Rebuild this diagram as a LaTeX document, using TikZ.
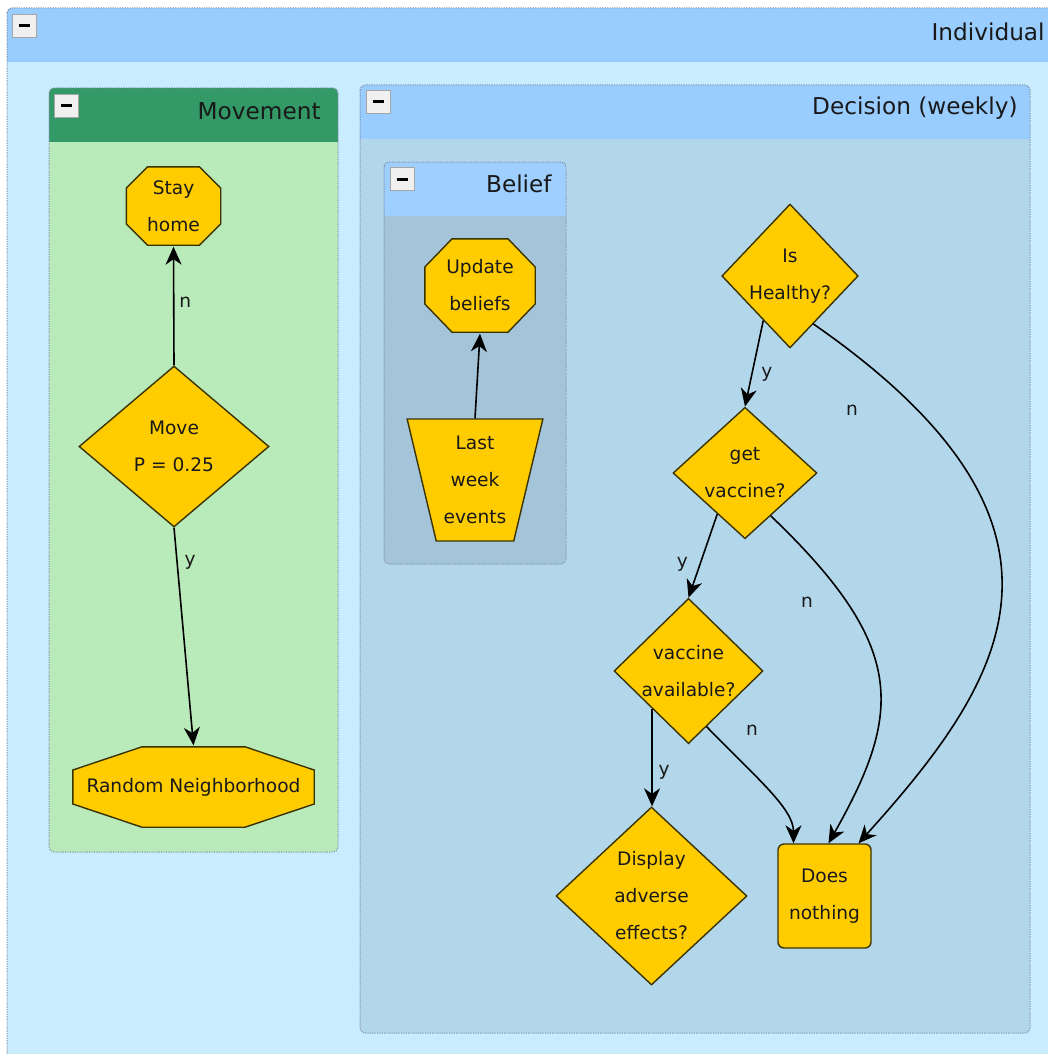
\documentclass[tikz,border=0pt]{standalone}
\usepackage{fontspec}
\setmainfont{DejaVu Sans}
\usetikzlibrary{shapes.geometric,arrows.meta}

\definecolor{indhead}{HTML}{99CCFF}
\definecolor{indbody}{HTML}{C9ECFF}
\definecolor{movhead}{HTML}{339966}
\definecolor{movbody}{HTML}{B9EAB9}
\definecolor{dechead}{HTML}{99CCFF}
\definecolor{decbody}{HTML}{B3D7EA}
\definecolor{belhead}{HTML}{9FCFFF}
\definecolor{belbody}{HTML}{A3C4D9}
\definecolor{blkfill}{HTML}{FFCC00}
\definecolor{blkline}{HTML}{3A3300}
\definecolor{grpline}{HTML}{7F8FA6}

\tikzset{
  grp/.style={draw=grpline, line width=0.5pt, dash pattern=on 0.6pt off 0.6pt, rounded corners=2.5pt},
  grptitle/.style={anchor=east, inner sep=0pt, text=black!90, font=\fontsize{11.6}{14}\selectfont},
  minusbtn/.style={draw=gray!70, fill=gray!12, minimum width=12pt, minimum height=11.5pt, inner sep=0pt},
  blk/.style={draw=blkline, fill=blkfill, line width=0.7pt, align=center, inner sep=0pt,
    text=black!90, font=\fontsize{9.3}{18.5}\selectfont},
  % octagon drawn inside a plain rectangle node, #1 = x cut, #2 = y cut
  octo/.style 2 args={blk, draw=none, fill=none, path picture={
    \filldraw[draw=blkline, fill=blkfill, line width=0.7pt]
      ([shift={(#1,-0.4pt)}]path picture bounding box.north west)
      -- ([shift={(-#1,-0.4pt)}]path picture bounding box.north east)
      -- ([shift={(-0.4pt,-#2)}]path picture bounding box.north east)
      -- ([shift={(-0.4pt,#2)}]path picture bounding box.south east)
      -- ([shift={(-#1,0.4pt)}]path picture bounding box.south east)
      -- ([shift={(#1,0.4pt)}]path picture bounding box.south west)
      -- ([shift={(0.4pt,#2)}]path picture bounding box.south west)
      -- ([shift={(0.4pt,-#2)}]path picture bounding box.north west) -- cycle;}},
  choice/.style={blk, diamond},
  flow/.style={line width=0.8pt, -{Stealth[length=9pt, width=8pt, inset=2.8pt]}},
  lbl/.style={inner sep=0pt, text=black!90, font=\fontsize{9.3}{11}\selectfont},
}

\begin{document}
\begin{tikzpicture}[x=0.5pt, y=-0.5pt]
\useasboundingbox (0,0) rectangle (1048,1054);
\clip (0,0) rectangle (1048,1054);

% groups
\begin{scope}
  \clip[rounded corners=2.5pt] (7,8) rectangle (1080,1080);
  \fill[indbody] (7,8) rectangle (1080,1080);
  \fill[indhead] (7,8) rectangle (1080,62);
\end{scope}
\draw[grp] (7,8) rectangle (1080,1080);
\node[minusbtn] (indbtn) at (24,25.5) {\rule{5.5pt}{1.5pt}};
\node[grptitle] (indtitle) at (1045,32) {Individual};

\begin{scope}
  \clip[rounded corners=2.5pt] (49,88) rectangle (338,852);
  \fill[movbody] (49,88) rectangle (338,852);
  \fill[movhead] (49,88) rectangle (338,142);
\end{scope}
\draw[grp] (49,88) rectangle (338,852);
\node[minusbtn] (movbtn) at (66.5,105.5) {\rule{5.5pt}{1.5pt}};
\node[grptitle] (movtitle) at (321,111) {Movement};

\begin{scope}
  \clip[rounded corners=2.5pt] (360,85) rectangle (1030,1033);
  \fill[decbody] (360,85) rectangle (1030,1033);
  \fill[dechead] (360,85) rectangle (1030,139);
\end{scope}
\draw[grp] (360,85) rectangle (1030,1033);
\node[minusbtn] (decbtn) at (378,102) {\rule{5.5pt}{1.5pt}};
\node[grptitle] (dectitle) at (1018,108) {Decision (weekly)};

\begin{scope}
  \clip[rounded corners=2.5pt] (384,162) rectangle (566,564);
  \fill[belbody] (384,162) rectangle (566,564);
  \fill[belhead] (384,162) rectangle (566,216);
\end{scope}
\draw[grp] (384,162) rectangle (566,564);
\node[minusbtn] (belbtn) at (402,179) {\rule{5.5pt}{1.5pt}};
\node[grptitle] (beltitle) at (552,184) {Belief};

% movement
\node[octo={11pt}{11pt}, minimum width=48pt, minimum height=40pt] (stay) at (173.5,206) {Stay\\home};
\node[choice, minimum width=95pt, minimum height=80.5pt] (move) at (174,446.5) {Move\\P = 0.25};
\node[octo={35pt}{12pt}, minimum width=121.5pt, minimum height=41pt] (randnb) at (193.5,787) {Random Neighborhood};

\draw[flow] (move.north) -- (stay.south) node[lbl, pos=0.53, shift={(11.5,0)}] {n};
\draw[flow] (move.south) -- (randnb.north) node[lbl, pos=0.16, shift={(13,0)}] {y};

% belief
\node[octo={14pt}{14.5pt}, minimum width=56pt, minimum height=47.5pt] (update) at (480,285.5) {Update\\beliefs};
\node[blk, trapezium, trapezium left angle=75, trapezium right angle=75, shape border rotate=180,
  trapezium stretches=true, minimum width=68pt, minimum height=61pt] (lastweek) at (475,480) {Last\\week\\events};

\draw[flow] (lastweek.north) -- (update.south);

% decision
\node[choice, minimum width=67pt, minimum height=72pt] (healthy) at (790,276) {Is\\Healthy?};
\node[choice, minimum width=72pt, minimum height=62pt] (getvac) at (745,473) {get\\vaccine?};
\node[choice, minimum width=74.5pt, minimum height=72pt] (avail) at (688.5,671) {vaccine\\available?};
\node[choice, minimum width=95.5pt, minimum height=89pt] (adverse) at (651.5,896) {Display\\adverse\\effects?};
\node[blk, rounded corners=3pt, minimum width=46.5pt, minimum height=52pt] (nothing) at (824.5,896) {Does\\nothing};

\draw[flow] (healthy.-121) -- (getvac.north) node[lbl, pos=0.63, shift={(15,0)}] {y};
\draw[flow] (getvac.-124) -- (avail.north) node[lbl, pos=0.6, shift={(-17.6,0)}] {y};
\draw[flow] (avail.-134) -- (avail.-134 |- adverse.north) node[lbl, pos=0.65, shift={(12,0)}] {y};
\draw[flow] (healthy.-64) .. controls +(294,204) and +(145,-161) .. ([xshift=17pt]nothing.north)
  node[lbl, pos=0.1, shift={(-38,27)}] {n};
\draw[flow] (getvac.-59) .. controls +(137,131) and +(74,-131) .. ([xshift=2pt]nothing.north)
  node[lbl, pos=0.25, shift={(-41,-2)}] {n};
\draw[flow] (avail.-72) .. controls +(53,54) and +(0,-34) .. ([xshift=-15.5pt]nothing.north)
  node[lbl, pos=0.1, shift={(30,-12)}] {n};
\end{tikzpicture}
\end{document}
